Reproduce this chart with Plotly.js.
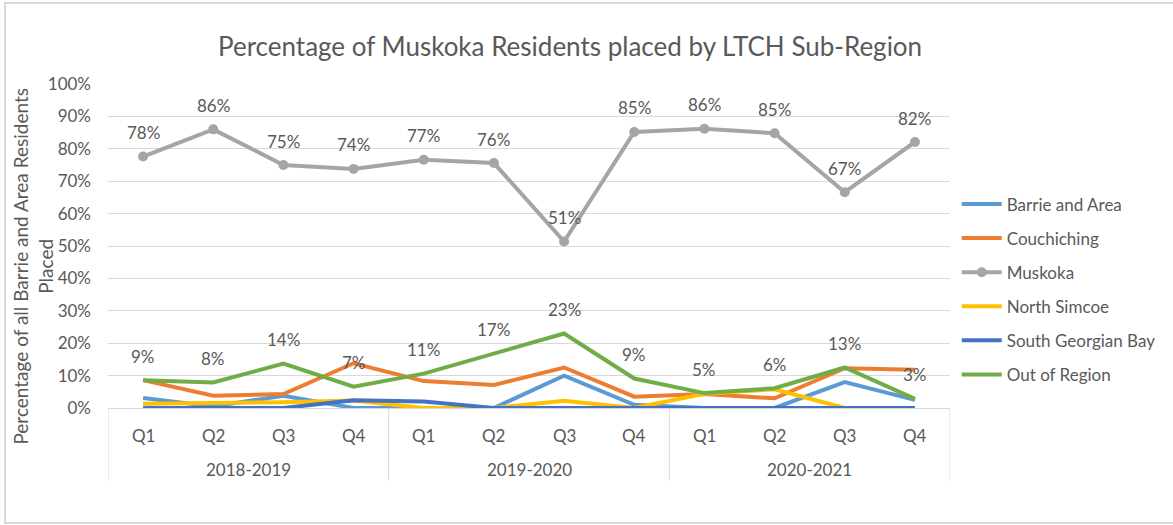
<!DOCTYPE html>
<html>
<head>
<meta charset="utf-8">
<script src="https://cdn.plot.ly/plotly-3.0.1.min.js"></script>
<style>
  html, body { margin: 0; padding: 0; background: #fff; }
  #wrap { position: relative; width: 1173px; height: 525px; overflow: hidden; }
  #chart { position: absolute; left: 0; top: 0; width: 1173px; height: 525px; }
  #frame { position: absolute; left: 4px; top: 2px; width: 1200px; height: 522px;
           border: 2px solid #d9d9d9; pointer-events: none; box-sizing: border-box; }
</style>
</head>
<body>
<div id="wrap"><div id="chart"></div><div id="frame"></div></div>
<script>
const years = ["2018-2019","2018-2019","2018-2019","2018-2019",
               "2019-2020","2019-2020","2019-2020","2019-2020",
               "2020-2021","2020-2021","2020-2021","2020-2021"];
const quarters = ["Q1","Q2","Q3","Q4","Q1","Q2","Q3","Q4","Q1","Q2","Q3","Q4"];

const barrieAndArea     = [3.1, 0.5, 3.8, 0, 0, 0, 10, 1, 0, 0, 8, 2.5];
const couchiching       = [8.6, 3.8, 4.3, 13.8, 8.3, 7.1, 12.5, 3.5, 4.3, 3.0, 12.3, 11.8];
const muskoka           = [77.6, 86.0, 75.0, 73.8, 76.6, 75.6, 51.4, 85.2, 86.2, 84.8, 66.6, 82.1];
const northSimcoe       = [1.3, 1.5, 1.8, 2.3, 0, 0, 2.2, 0, 4.4, 5.8, 0, 0];
const southGeorgianBay  = [0, 0, 0, 2.4, 2.0, 0, 0, 0, 0, 0, 0, 0];
const outOfRegion       = [8.6, 7.9, 13.7, 6.6, 10.6, 16.8, 23.0, 9.1, 4.6, 6.1, 12.5, 2.8];

const seriesNames  = ["Barrie and Area","Couchiching","Muskoka","North Simcoe","South Georgian Bay","Out of Region"];
const seriesValues = [barrieAndArea, couchiching, muskoka, northSimcoe, southGeorgianBay, outOfRegion];
const seriesColors = ["#5B9BD5","#ED7D31","#A5A5A5","#FFC000","#4472C4","#70AD47"];
const labelledSeries = ["Muskoka","Out of Region"];

const FONT = "Lato, 'Open Sans', sans-serif";
const TXT = "#595959";
const GRID = "#d9d9d9";

// category keys combining year and quarter
const cats = years.map((y, k) => y + " " + quarters[k]);

const traces = seriesNames.map((name, i) => ({
  type: "scatter",
  mode: name === "Muskoka" ? "lines+markers" : "lines",
  name: name,
  legendgroup: "g" + i,
  x: cats,
  y: seriesValues[i],
  line: { color: seriesColors[i], width: 4 },
  marker: { color: seriesColors[i], size: 10 },
  hoverinfo: "skip"
}));

const annotations = [];
const shapes = [];

// data labels
seriesNames.forEach((name, i) => {
  if (!labelledSeries.includes(name)) return;
  seriesValues[i].forEach((v, k) => {
    annotations.push({
      x: cats[k], y: v, xref: "x", yref: "y",
      text: Math.round(v) + "%",
      showarrow: false, yshift: 24,
      font: { family: FONT, size: 17, color: TXT }
    });
  });
});

// quarter labels
quarters.forEach((q, k) => {
  annotations.push({
    x: cats[k], xref: "x", y: 0, yref: "paper", yanchor: "middle",
    yshift: -27, showarrow: false, text: q,
    font: { family: FONT, size: 17, color: TXT }
  });
});

// year group labels and dividers
const groups = [];
years.forEach((y, k) => {
  if (!groups.length || groups[groups.length - 1].name !== y) groups.push({ name: y, start: k, end: k });
  else groups[groups.length - 1].end = k;
});
groups.forEach((g, gi) => {
  annotations.push({
    x: (g.start + g.end) / 2, xref: "x", y: 0, yref: "paper", yanchor: "middle",
    yshift: -61, showarrow: false, text: g.name,
    font: { family: FONT, size: 17, color: TXT }
  });
  const edges = gi === 0 ? [g.start - 0.5, g.end + 0.5] : [g.end + 0.5];
  edges.forEach(e => shapes.push({
    type: "line", xref: "x", yref: "paper", x0: e, x1: e, y0: 0, y1: -0.225,
    line: { color: GRID, width: 1 }
  }));
});

// y axis title
annotations.push({
  xref: "paper", yref: "paper",
  x: -0.0885, y: 0.438, xanchor: "center", yanchor: "middle",
  textangle: -90, showarrow: false,
  text: "Percentage of all Barrie and Area Residents<br>Placed",
  font: { family: FONT, size: 19, color: TXT }
});

const layout = {
  width: 1173, height: 525,
  margin: { l: 108, r: 223, t: 84, b: 117 },
  paper_bgcolor: "#fff", plot_bgcolor: "#fff",
  font: { family: FONT, size: 17, color: TXT },
  title: {
    text: "Percentage of Muskoka Residents placed by LTCH Sub-Region",
    font: { family: FONT, size: 26, color: TXT },
    x: 0.486, xanchor: "center", y: 0.91, yanchor: "middle"
  },
  showlegend: true,
  legend: {
    x: 1.008, xanchor: "left", y: 0.366, yanchor: "middle",
    traceorder: "grouped", tracegroupgap: 9,
    font: { family: FONT, size: 17, color: TXT },
    itemwidth: 40
  },
  xaxis: {
    type: "category",
    range: [-0.5, cats.length - 0.5],
    showgrid: false, showticklabels: false,
    showline: true, linecolor: GRID, linewidth: 1,
    ticks: "", zeroline: false, fixedrange: true
  },
  yaxis: {
    range: [0, 100], dtick: 10, ticksuffix: "%",
    showgrid: true, gridcolor: GRID, gridwidth: 1,
    zeroline: false, showline: false, ticks: "",
    tickfont: { family: FONT, size: 17, color: TXT },
    ticklabelstandoff: 16, fixedrange: true
  },
  annotations: annotations,
  shapes: shapes
};

Plotly.newPlot("chart", traces, layout, { displayModeBar: false, staticPlot: true });
</script>
</body>
</html>
